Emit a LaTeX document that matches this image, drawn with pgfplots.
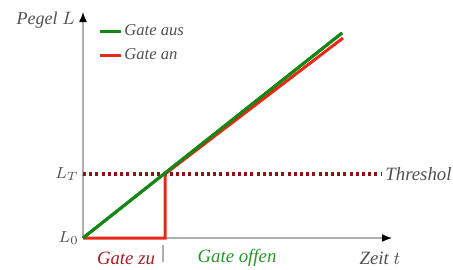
\documentclass[border=0pt]{standalone}
\usepackage{fontspec}
\setmainfont{Liberation Serif}
\usepackage{pgfplots}
\pgfplotsset{compat=1.18}
\usetikzlibrary{arrows.meta}
\definecolor{cgreen}{RGB}{20,135,20}
\definecolor{cred}{RGB}{232,40,20}
\definecolor{cdred}{RGB}{140,20,20}
\definecolor{ctxt}{RGB}{80,80,80}
\definecolor{cgray}{RGB}{175,175,175}
\definecolor{czu}{RGB}{165,30,40}
\definecolor{coffen}{RGB}{40,150,40}
\begin{document}
\begin{tikzpicture}
\begin{axis}[
  x=0.5pt, y=0.5pt,
  xmin=-83, xmax=370, ymin=-31, ymax=238,
  hide axis, clip=true,
  legend style={at={(axis cs:15,216)}, anchor=north west, draw=none, fill=none,
    font=\fontsize{8.3}{10}\selectfont\itshape\color{ctxt}, row sep=3pt,
    inner sep=0pt, nodes={inner xsep=1pt, inner ysep=1pt}, cells={anchor=west}},
  legend image code/.code={\draw[#1] (0pt,0pt) -- (10.5pt,0pt);},
]
\path (rel axis cs:0,0) rectangle (rel axis cs:1,1);
% axes
\draw[cgray, line width=0.7pt, -{Latex[black,length=5pt,width=4pt]}] (axis cs:0,0) -- (axis cs:0,226);
\draw[cgray, line width=0.7pt, -{Latex[black,length=5pt,width=4pt]}] (axis cs:0,0) -- (axis cs:309,0);
\draw[cgray, line width=0.8pt] (axis cs:80,-7) -- (axis cs:80,-24);
% threshold
\addplot[cdred, line width=1.6pt, dash pattern=on 1.5pt off 1.6pt, forget plot] coordinates {(0,64) (298,64)};
\addplot[cgreen, line width=1.5pt] coordinates {(0,0) (259,205)};
\addlegendentry{Gate aus}
\addplot[cred, line width=1.5pt] coordinates {(0,0) (82,0) (82,64) (260,200)};
\addlegendentry{Gate an}
\addplot[cgreen, line width=1.5pt, forget plot] coordinates {(0,0) (259,205)};
% labels
\node[font=\fontsize{9}{10}\selectfont\itshape, text=ctxt, anchor=east, inner sep=0pt] at (axis cs:-8,218) {Pegel $L$};
\node[font=\fontsize{8.2}{10}\selectfont, text=ctxt, anchor=east, inner sep=0pt] at (axis cs:-4,64) {$L_T$};
\node[font=\fontsize{8.2}{10}\selectfont, text=ctxt, anchor=east, inner sep=0pt] at (axis cs:-4,0) {$L_0$};
\node[font=\fontsize{9.4}{10}\selectfont\itshape, text=ctxt, anchor=west, inner sep=0pt] at (axis cs:302,64) {Threshol};
\node[font=\fontsize{9.4}{10}\selectfont\itshape, text=czu] at (axis cs:43,-20) {Gate zu};
\node[font=\fontsize{9.4}{10}\selectfont\itshape, text=coffen] at (axis cs:154,-20) {Gate offen};
\node[font=\fontsize{9.4}{10}\selectfont\itshape, text=ctxt] at (axis cs:297,-20) {Zeit $t$};
\end{axis}
\end{tikzpicture}
\end{document}
